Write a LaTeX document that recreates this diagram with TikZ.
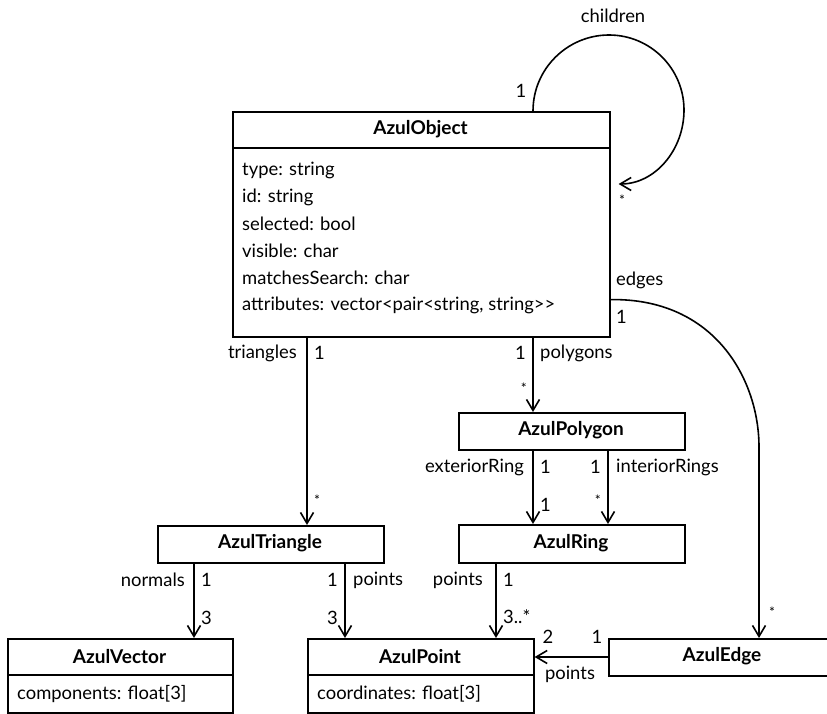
\documentclass[tikz,border=0pt]{standalone}
\usepackage{fontspec}
\setmainfont{Lato}
\usetikzlibrary{arrows.meta,calc}
\begin{document}
\begin{tikzpicture}[x=1pt,y=-1pt,
  cls/.style={draw, line width=1.6pt, inner sep=0pt, anchor=north west, rectangle},
  title/.style={font=\fontsize{19}{21}\selectfont\bfseries, inner sep=0pt},
  attr/.style={font=\fontsize{18.4}{20}\selectfont, inner sep=0pt, anchor=west},
  lab/.style={font=\fontsize{18.4}{20}\selectfont, inner sep=0pt},
  star/.style={font=\fontsize{14}{16}\selectfont, inner sep=0pt},
  ln/.style={line width=1.6pt},
  assoc/.style={line width=1.6pt, -{Straight Barb[length=11pt,width=13pt,line width=1.6pt]}}]
\useasboundingbox (0,0) rectangle (827,714);
% classes
\node[cls, minimum width=377pt, minimum height=225pt] (obj) at (232,111) {};
\node[cls, minimum width=226pt, minimum height=37pt] (tri) at (157,525) {};
\node[cls, minimum width=226pt, minimum height=37pt] (poly) at (458,412) {};
\node[cls, minimum width=226pt, minimum height=38pt] (ring) at (458,524) {};
\node[cls, minimum width=225pt, minimum height=74pt] (vec) at (7,638) {};
\node[cls, minimum width=226pt, minimum height=74pt] (pt) at (307,638) {};
\node[cls, minimum width=228pt, minimum height=37pt] (edge) at (608,638) {};
% header separators
\draw[ln] (obj.north west) ++(0,37) -- ++(377,0);
\draw[ln] (vec.north west) ++(0,37) -- ++(225,0);
\draw[ln] (pt.north west) ++(0,37) -- ++(226,0);
% titles
\node[title] (tobj) at (420.5,129.5) {AzulObject};
\node[title] (ttri) at (270,543.5) {AzulTriangle};
\node[title] (tpoly) at (571,430.5) {AzulPolygon};
\node[title] (tring) at (571,543) {AzulRing};
\node[title] (tvec) at (119.5,656.5) {AzulVector};
\node[title] (tpt) at (420,656.5) {AzulPoint};
\node[title] (tedge) at (722,656.5) {AzulEdge};
% attributes
\node[attr] (a1) at (242,170) {type: string};
\node[attr] (a2) at (242,197) {id: string};
\node[attr] (a3) at (242,224) {selected: bool};
\node[attr] (a4) at (242,251) {visible: char};
\node[attr] (a5) at (242,278) {matchesSearch: char};
\node[attr] (a6) at (242,305) {attributes: vector<pair<string, string>{}>};
\node[attr] (a7) at (17,694) {components: float[3]};
\node[attr] (a8) at (317,694) {coordinates: float[3]};
% connector end points
\coordinate (sTri) at ($(obj.south west)+(75,0)$);
\coordinate (eTri) at ($(tri.north west)+(150,0)$);
\coordinate (sPoly) at ($(obj.south west)+(301,0)$);
\coordinate (ePoly) at ($(poly.north west)+(75,0)$);
\coordinate (sExt) at ($(poly.south west)+(75,0)$);
\coordinate (eExt) at ($(ring.north west)+(75,0)$);
\coordinate (sInt) at ($(poly.south west)+(150,0)$);
\coordinate (eInt) at ($(ring.north west)+(150,0)$);
\coordinate (sRp) at ($(ring.south west)+(38,0)$);
\coordinate (eRp) at ($(pt.north west)+(189,0)$);
\coordinate (sNor) at ($(tri.south west)+(37,0)$);
\coordinate (eNor) at ($(vec.north west)+(187,0)$);
\coordinate (sTp) at ($(tri.south west)+(188,0)$);
\coordinate (eTp) at ($(pt.north west)+(38,0)$);
\coordinate (sEp) at ($(edge.north west)+(0,19)$);
\coordinate (eEp) at ($(pt.north east)+(0,19)$);
\coordinate (sEd) at ($(obj.south east)+(0,-38)$);
\coordinate (eEd) at ($(edge.north west)+(151,0)$);
\coordinate (sCh) at ($(obj.north west)+(301,0)$);
\coordinate (eCh) at ($(obj.north east)+(8,73)$);
% connectors
\draw[assoc] (sTri) -- (eTri);
\draw[assoc] (sPoly) -- (ePoly);
\draw[assoc] (sExt) -- (eExt);
\draw[assoc] (sInt) -- (eInt);
\draw[assoc] (sRp) -- (eRp);
\draw[assoc] (sNor) -- (eNor);
\draw[assoc] (sTp) -- (eTp);
\draw[assoc] (sEp) -- (eEp);
\draw[assoc] (sEd) .. controls (715,298) and (759,380) .. (759,447) -- (eEd);
\draw[assoc] (sCh) .. controls (533,68.6) and (567.6,35) .. (609,35)
  .. controls (650.4,35) and (684,68.6) .. (684,110)
  .. controls (684,150) and (655,184) .. (eCh);
% labels
\node[lab, anchor=east] (l1) at (297,353) {triangles};
\node[lab, anchor=west] (l2) at (314,353) {1};
\node[star, anchor=west] (l3) at (314,500) {*};
\node[lab, anchor=east] (l4) at (526,353) {1};
\node[lab, anchor=west] (l5) at (540,353) {polygons};
\node[star, anchor=east] (l6) at (527,388) {*};
\node[lab, anchor=east] (l7) at (524,467) {exteriorRing};
\node[lab, anchor=west] (l8) at (540,467) {1};
\node[lab, anchor=west] (l9) at (540,505) {1};
\node[lab, anchor=east] (l10) at (601,467) {1};
\node[lab, anchor=west] (l11) at (616,467) {interiorRings};
\node[star, anchor=east] (l12) at (601,500) {*};
\node[lab, anchor=east] (l13) at (483,580) {points};
\node[lab, anchor=west] (l14) at (503,580) {1};
\node[lab, anchor=west] (l15) at (503,617) {3..*};
\node[lab, anchor=east] (l16) at (185,580) {normals};
\node[lab, anchor=west] (l17) at (201,580) {1};
\node[lab, anchor=west] (l18) at (201,618) {3};
\node[lab, anchor=east] (l19) at (338,580) {1};
\node[lab, anchor=west] (l20) at (353,580) {points};
\node[lab, anchor=east] (l21) at (338,618) {3};
\node[lab] (l22) at (548,637) {2};
\node[lab] (l23) at (597,637) {1};
\node[lab] (l24) at (570,674) {points};
\node[lab, anchor=west] (l25) at (616,280) {edges};
\node[lab, anchor=west] (l26) at (616,317) {1};
\node[star] (l27) at (772,612) {*};
\node[lab] (l28) at (613,16) {children};
\node[lab] (l29) at (521,91) {1};
\node[star] (l30) at (622,200) {*};
\end{tikzpicture}
\end{document}
